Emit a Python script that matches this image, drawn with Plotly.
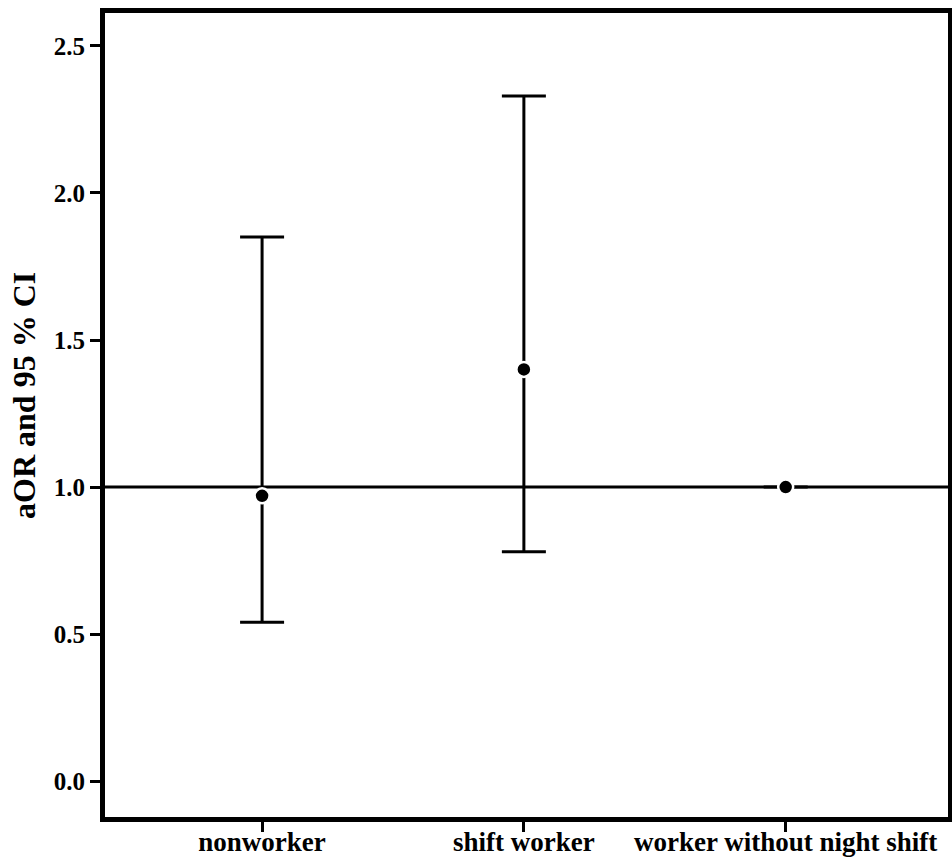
import plotly.graph_objects as go

categories = ["nonworker", "shift worker", "worker without night shift"]
aor = [0.97, 1.40, 1.00]
ci_low = [0.54, 0.78, 1.00]
ci_high = [1.85, 2.33, 1.00]
y_ticks = [0.0, 0.5, 1.0, 1.5, 2.0, 2.5]
y_tick_labels = ["0.0", "0.5", "1.0", "1.5", "2.0", "2.5"]
y_title = "aOR and 95 % CI"

err_plus = [h - v for h, v in zip(ci_high, aor)]
err_minus = [v - l for v, l in zip(aor, ci_low)]

font_family = "Liberation Serif"

fig = go.Figure()
fig.add_shape(type="line", xref="paper", x0=0, x1=1, yref="y", y0=1, y1=1,
              line=dict(color="black", width=3), layer="below")
fig.add_trace(go.Scatter(
    x=categories, y=aor, mode="markers",
    marker=dict(color="black", size=15, line=dict(color="white", width=2.5)),
    error_y=dict(type="data", symmetric=False, array=err_plus, arrayminus=err_minus,
                 color="black", thickness=3, width=22),
    showlegend=False,
))

fig.add_annotation(
    text=y_title, xref="paper", yref="paper", x=-0.097, y=0.524,
    xanchor="center", yanchor="middle", textangle=-90, showarrow=False,
    font=dict(family=font_family, size=32, color="black", weight="bold"),
)

fig.update_layout(
    template="none",
    width=952, height=858,
    paper_bgcolor="white", plot_bgcolor="white",
    margin=dict(l=105, r=4, t=13, b=41, autoexpand=False),
    font=dict(family=font_family, color="black"),
)
fig.update_xaxes(
    type="category", range=[-0.6, 2.62], automargin=False,
    showline=True, linecolor="black", linewidth=5, mirror=True,
    ticks="outside", ticklen=10, tickwidth=3, tickcolor="black",
    ticklabelstandoff=-13,
    showgrid=False, zeroline=False,
    tickfont=dict(family=font_family, size=27, color="black", weight="bold"),
)
fig.update_yaxes(
    range=[-0.122, 2.612], automargin=False,
    tickvals=y_ticks, ticktext=y_tick_labels,
    showline=True, linecolor="black", linewidth=5, mirror=True,
    ticks="outside", ticklen=10, tickwidth=3, tickcolor="black",
    showgrid=False, zeroline=False,
    tickfont=dict(family=font_family, size=25, color="black", weight="bold"),
)

fig.write_html("out.html", config={"displayModeBar": False},
               post_script="document.body.style.margin='0';document.body.style.overflow='hidden';")
